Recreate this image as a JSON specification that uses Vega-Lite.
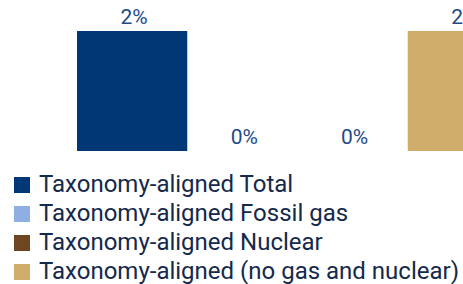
{
  "$schema": "https://vega.github.io/schema/vega-lite/v6.json",
  "width": 463,
  "height": 120,
  "autosize": {"type": "none"},
  "padding": {"top": 31, "left": 0, "right": 0, "bottom": 133},
  "background": "white",
  "config": {"view": {"stroke": null}, "font": "Roboto"},
  "data": {
    "values": [
      {"category": "Taxonomy-aligned Total", "value": 2, "label": "2%"},
      {"category": "Taxonomy-aligned Fossil gas", "value": 0, "label": "0%"},
      {"category": "Taxonomy-aligned Nuclear", "value": 0, "label": "0%"},
      {"category": "Taxonomy-aligned (no gas and nuclear)", "value": 2, "label": "2%"}
    ]
  },
  "encoding": {
    "x": {
      "field": "category",
      "type": "nominal",
      "sort": null,
      "axis": null,
      "scale": {"range": [77, 518], "paddingInner": 0, "paddingOuter": 0}
    },
    "y": {
      "field": "value",
      "type": "quantitative",
      "axis": null,
      "scale": {"domain": [0, 2], "nice": false}
    }
  },
  "layer": [
    {
      "mark": {"type": "bar"},
      "encoding": {
        "color": {
          "field": "category",
          "type": "nominal",
          "sort": null,
          "scale": {
            "domain": [
              "Taxonomy-aligned Total",
              "Taxonomy-aligned Fossil gas",
              "Taxonomy-aligned Nuclear",
              "Taxonomy-aligned (no gas and nuclear)"
            ],
            "range": ["#003876", "#8FAEE3", "#6E4722", "#D1AD6B"]
          },
          "legend": {
            "orient": "none",
            "legendX": 10,
            "legendY": 142,
            "title": null,
            "symbolType": "square",
            "symbolSize": 256,
            "symbolStrokeWidth": 0,
            "labelFontSize": 24,
            "labelColor": "#14294B",
            "labelLimit": 600,
            "labelOffset": 5,
            "rowPadding": 5
          }
        }
      }
    },
    {
      "mark": {"type": "text", "baseline": "bottom", "dy": -3, "dx": 2, "fontSize": 21, "color": "#1F4A8A"},
      "encoding": {"text": {"field": "label"}}
    }
  ]
}
